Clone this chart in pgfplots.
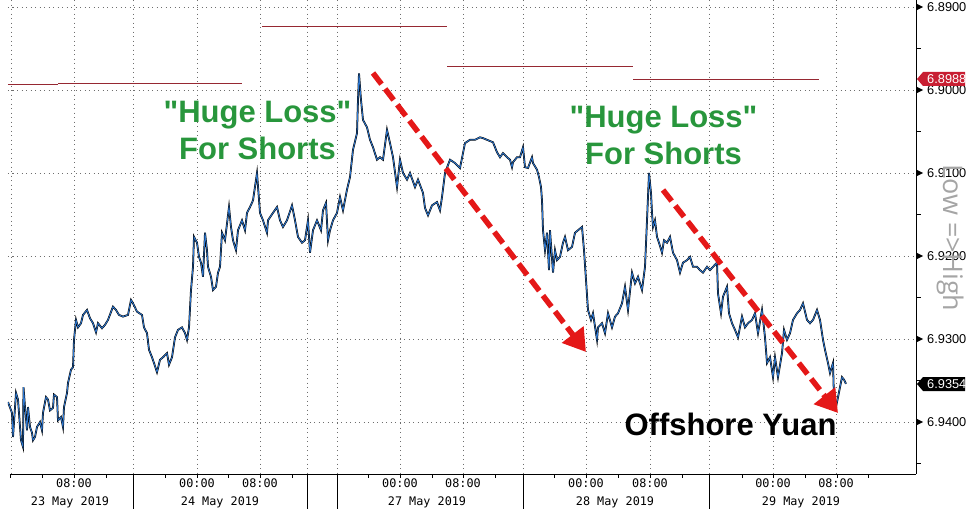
\documentclass[border=0pt]{standalone}
\usepackage{fontspec}
\usepackage{pgfplots}
\usepackage{pgfplotstable}
\pgfplotsset{compat=1.18}
\usetikzlibrary{arrows.meta}
\setmainfont{Liberation Sans}
\newfontfamily\annfont[Ligatures=TeXOff]{Liberation Sans}
\newfontfamily\tickfont{Liberation Sans}
\newfontfamily\monofont{DejaVu Sans Mono}
\newfontfamily\lowfont[Ligatures=TeXOff]{Open Sans}
\definecolor{hiline}{RGB}{150,40,50}
\definecolor{annGreen}{RGB}{40,150,60}
\definecolor{arrRed}{RGB}{228,24,24}
\definecolor{lblRed}{RGB}{200,30,50}
\definecolor{priceBlue}{RGB}{45,120,210}
\definecolor{gridc}{RGB}{110,110,110}
\definecolor{daysep}{RGB}{120,120,120}
\definecolor{lowgray}{RGB}{165,165,165}

\pgfplotstableread{
x p
8 6.9376
12 6.9389
13 6.9418
16 6.9365
18 6.9373
21 6.9422
23 6.9430
23.5 6.9358
25 6.9382
27 6.9410
28 6.9382
30 6.9406
32 6.9413
33 6.9422
35 6.9418
37 6.9406
40 6.9400
42 6.9410
43 6.9389
46 6.9370
48 6.9373
50 6.9386
53 6.9383
54 6.9367
57 6.9370
58 6.9398
61 6.9394
63 6.9406
64 6.9382
67 6.9365
68 6.9353
71 6.9337
73 6.9334
74 6.9301
76 6.9277
78 6.9286
81 6.9281
83 6.9271
87 6.9265
90 6.9275
93 6.9281
96 6.9292
98 6.9281
102 6.9287
105 6.9283
108 6.9277
113 6.9261
116 6.9265
119 6.9271
123 6.9273
128 6.9271
131 6.9253
133 6.9257
137 6.9267
142 6.9271
144 6.9286
147 6.9293
149 6.9313
152 6.9322
154 6.9329
157 6.9340
160 6.9325
163 6.9322
167 6.9317
169 6.9331
172 6.9322
175 6.9298
178 6.9289
182 6.9286
185 6.9293
187 6.9301
189 6.9286
191 6.9241
193 6.9213
194 6.9177
197 6.9184
199 6.9201
201 6.9208
203 6.9225
205 6.9172
207 6.9193
208 6.9213
211 6.9225
213 6.9241
216 6.9237
218 6.9220
220 6.9213
222 6.9172
225 6.9181
229 6.9141
231 6.9165
233 6.9181
236 6.9193
238 6.9169
242 6.9157
245 6.9169
247 6.9148
250 6.9141
253 6.9133
257 6.9100
260 6.9148
263 6.9157
267 6.9172
268 6.9157
273 6.9148
277 6.9141
280 6.9157
283 6.9165
287 6.9157
292 6.9139
295 6.9157
298 6.9177
302 6.9184
305 6.9181
308 6.9157
310 6.9196
313 6.9169
317 6.9157
321 6.9169
323 6.9145
326 6.9136
328 6.9181
330 6.9169
333 6.9157
337 6.9148
340 6.9129
343 6.9145
347 6.9120
350 6.9105
353 6.9072
357 6.9052
358 6.9012
359 6.8980
361 6.9012
363 6.9036
367 6.9045
370 6.9060
373 6.9069
377 6.9084
380 6.9081
383 6.9084
387 6.9048
390 6.9064
393 6.9081
397 6.9117
400 6.9084
403 6.9100
407 6.9108
410 6.9100
415 6.9117
418 6.9108
423 6.9124
425 6.9142
428 6.9151
432 6.9139
437 6.9135
440 6.9145
442 6.9129
445 6.9100
450 6.9084
455 6.9088
460 6.9094
465 6.9064
470 6.9060
475 6.9060
480 6.9057
483 6.9058
487 6.9060
493 6.9063
497 6.9075
500 6.9081
503 6.9076
507 6.9081
510 6.9084
512 6.9093
513 6.9087
517 6.9081
520 6.9081
523 6.9069
525 6.9093
528 6.9094
532 6.9081
533 6.9088
537 6.9096
539 6.9105
541 6.9117
542 6.9133
543 6.9169
545 6.9193
547 6.9172
549 6.9217
550 6.9169
553 6.9220
555 6.9193
557 6.9205
560 6.9201
563 6.9184
565 6.9177
568 6.9193
572 6.9189
575 6.9172
578 6.9169
582 6.9165
584 6.9193
586 6.9229
588 6.9265
591 6.9277
593 6.9269
597 6.9301
598 6.9286
602 6.9281
605 6.9293
608 6.9269
612 6.9286
615 6.9273
618 6.9269
622 6.9257
625 6.9237
628 6.9265
632 6.9220
635 6.9233
638 6.9225
642 6.9241
645 6.9213
647 6.9157
649 6.9100
651 6.9124
652 6.9148
653 6.9165
655 6.9157
657 6.9177
659 6.9184
662 6.9196
664 6.9181
667 6.9184
670 6.9177
673 6.9196
677 6.9205
680 6.9220
683 6.9208
687 6.9205
690 6.9201
693 6.9213
697 6.9213
700 6.9217
703 6.9220
707 6.9213
710 6.9217
713 6.9213
717 6.9208
718 6.9245
721 6.9269
723 6.9249
727 6.9237
729 6.9269
732 6.9281
735 6.9289
738 6.9298
742 6.9273
745 6.9286
748 6.9281
752 6.9277
755 6.9269
758 6.9293
762 6.9265
765 6.9298
767 6.9329
770 6.9322
773 6.9346
775 6.9322
778 6.9346
782 6.9317
784 6.9289
787 6.9301
790 6.9293
793 6.9277
797 6.9269
800 6.9265
803 6.9257
807 6.9277
810 6.9281
813 6.9277
817 6.9265
820 6.9277
823 6.9301
825 6.9313
828 6.9329
830 6.9341
833 6.9329
834 6.9373
836 6.9382
838 6.9370
840 6.9358
842 6.9346
844 6.9349
846 6.9354
}\pricedata

\begin{document}
\begin{tikzpicture}[x=1pt,y=1pt]
\begin{axis}[
  at={(0pt,0pt)}, anchor=south west,
  scale only axis, width=908pt, height=474pt,
  xmin=8, xmax=916, ymin=6.889157, ymax=6.946265, y dir=reverse,
  axis line style={draw=none},
  major tick length=0pt,
  ytick={6.89,6.90,6.91,6.92,6.93,6.94},
  yticklabel pos=right,
  yticklabel style={font=\tickfont\fontsize{12.8}{13}\selectfont, anchor=west, inner sep=0pt, xshift=11pt,
    /pgf/number format/.cd, fixed, fixed zerofill, precision=4, assume math mode=true},
  ymajorgrids,
  y grid style={gridc, dash pattern=on 1pt off 3.5pt},
  xtick={74,133,260,307,337,463,523,650,709,836},
  xticklabels={08:00,,08:00,,,08:00,,08:00,,08:00},
  extra x ticks={11,197,400,586,773},
  extra x tick labels={,00:00,00:00,00:00,00:00},
  extra x tick style={grid style={solid, daysep, line width=0.9pt}},
  xticklabel style={font=\monofont\fontsize{11.8}{12}\selectfont, anchor=center, yshift=-9pt, inner sep=0pt},
  xmajorgrids,
  x grid style={gridc, dash pattern=on 1pt off 3.5pt},
]
\addplot[hiline, line width=0.9pt] coordinates {(8,6.8993) (58,6.8993)};
\addplot[hiline, line width=0.9pt] coordinates {(58,6.8992) (242,6.8992)};
\addplot[hiline, line width=0.9pt] coordinates {(262,6.8923) (447,6.8923)};
\addplot[hiline, line width=0.9pt] coordinates {(447,6.8972) (633,6.8972)};
\addplot[hiline, line width=0.9pt] coordinates {(633,6.8987) (819,6.8987)};
\addplot[black, line width=1.8pt, line join=miter] table[x=x,y=p] {\pricedata};
\addplot[priceBlue, line width=0.8pt] table[x=x,y=p] {\pricedata};
\end{axis}
% axis lines
\draw[black, line width=0.9pt] (2,0) -- (908,0);
\draw[black, line width=0.9pt] (908,0) -- (908,474);
% y tick markers
\foreach \yy in {467,384,301,218,135,52}{
  \fill[black] (908,\yy+3.5) -- (915,\yy) -- (908,\yy-3.5) -- cycle;
}
\foreach \yy in {425.5,342.5,259.5,176.5,93.5,10.5}{
  \draw[black, line width=0.8pt] (908,\yy) -- (913,\yy);
}
% x small ticks
\foreach \xx in {2,34,66,98,157,189,220,252,284,360,392,424,455,487,546,578,610,642,674,734,765,797,829,860}{
  \draw[black, line width=0.8pt] (\xx,0) -- (\xx,-4);
}
% date separators
\foreach \xx in {125,299,329,515,701}{
  \draw[black, line width=0.9pt] (\xx,0) -- (\xx,-35);
}
% date labels
\begin{scope}[font=\monofont\fontsize{11.8}{12}\selectfont]
\node at (62,-28) {23 May 2019};
\node at (212,-28) {24 May 2019};
\node at (419,-28) {27 May 2019};
\node at (607,-28) {28 May 2019};
\node at (793,-28) {29 May 2019};
\end{scope}
% arrows
\draw[arrRed, line width=5.5pt, dash pattern=on 14pt off 6pt, -{Triangle[length=22pt,width=26pt]}] (365,401) -- (578,122);
\draw[arrRed, line width=5.5pt, dash pattern=on 14pt off 6pt, -{Triangle[length=22pt,width=26pt]}] (655,284) -- (830,61);
% annotations
\begin{scope}[font=\annfont\fontsize{31}{31}\selectfont\bfseries]
\node[annGreen, anchor=base, inner sep=0pt] at (249.5,351) {"Huge Loss"};
\node[annGreen, anchor=base, inner sep=0pt] at (249.5,314) {For Shorts};
\node[annGreen, anchor=base, inner sep=0pt] at (655.5,346) {"Huge Loss"};
\node[annGreen, anchor=base, inner sep=0pt] at (655.5,309) {For Shorts};
\node[black, anchor=base, inner sep=0pt] at (722.5,39) {Offshore Yuan};
\end{scope}
\node[lowgray, rotate=-90, font=\lowfont\fontsize{27}{27}\selectfont, inner sep=0pt] at (942,236) {Low =>High};
% price labels
\fill[lblRed] (909,395) -- (915,402) -- (957,402) -- (957,388) -- (915,388) -- cycle;
\node[white, anchor=west, inner sep=0pt, font=\tickfont\fontsize{12.8}{13}\selectfont] at (919,395) {6.8988};
\fill[black] (909,90) -- (915,97) -- (957,97) -- (957,83) -- (915,83) -- cycle;
\node[white, anchor=west, inner sep=0pt, font=\tickfont\fontsize{12.8}{13}\selectfont] at (919,90) {6.9354};
\pgfresetboundingbox
\path (-8,-35) rectangle (968,474);
\end{tikzpicture}
\end{document}
